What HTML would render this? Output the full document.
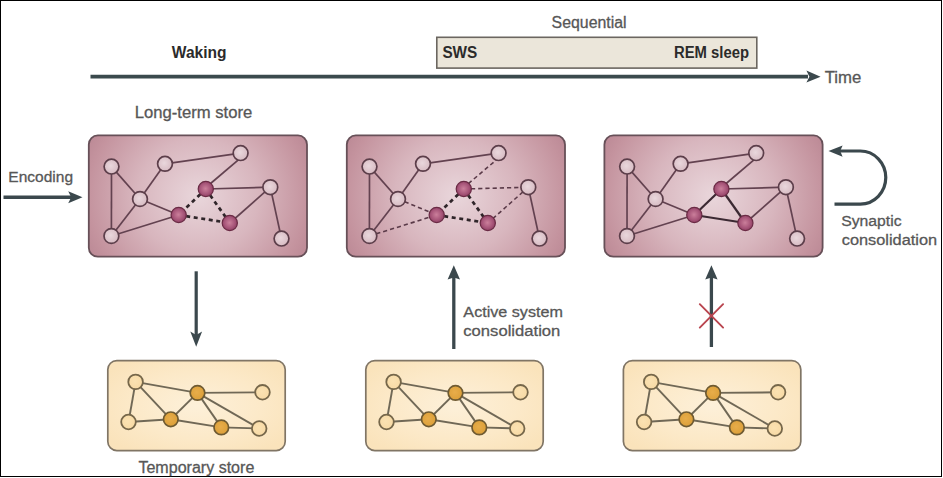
<!DOCTYPE html><html><head><meta charset="utf-8"><style>
html,body{margin:0;padding:0;background:#fff;}
body{width:943px;height:478px;overflow:hidden;position:relative;}
svg{position:absolute;left:0;top:0;}
text{font-family:"Liberation Sans", sans-serif;}
</style></head><body>
<svg width="943" height="478" viewBox="0 0 943 478">
<defs>
<radialGradient id="ltg" cx="0.5" cy="0.5" r="1" gradientTransform="translate(0.5,0.52) scale(0.56,0.95) translate(-0.5,-0.52)"><stop offset="0" stop-color="#e9d6db"/><stop offset="0.5" stop-color="#d8b6be"/><stop offset="0.9" stop-color="#c4939e"/><stop offset="1" stop-color="#bd8b97"/></radialGradient>
<radialGradient id="tg" cx="50%" cy="50%" r="62%"><stop offset="0" stop-color="#fdf0d9"/><stop offset="0.6" stop-color="#fce9c8"/><stop offset="1" stop-color="#fae3bb"/></radialGradient>
<radialGradient id="ln" cx="45%" cy="45%" r="60%"><stop offset="0" stop-color="#e9d7dc"/><stop offset="1" stop-color="#d6b9c1"/></radialGradient>
<radialGradient id="dn" cx="48%" cy="48%" r="60%"><stop offset="0" stop-color="#cb7f9b"/><stop offset="0.6" stop-color="#a65478"/><stop offset="1" stop-color="#86385b"/></radialGradient>
<radialGradient id="tln" cx="45%" cy="45%" r="60%"><stop offset="0" stop-color="#fbe2b2"/><stop offset="1" stop-color="#f7d9a4"/></radialGradient>
<radialGradient id="tdn" cx="45%" cy="45%" r="60%"><stop offset="0" stop-color="#e8ad4a"/><stop offset="1" stop-color="#da9e38"/></radialGradient>
</defs>
<g fill="#000" shape-rendering="crispEdges"><rect x="0" y="0" width="942" height="1"/><rect x="0" y="0" width="1" height="477"/><rect x="941" y="0" width="1" height="477"/><rect x="0" y="476" width="942" height="1"/></g>
<line x1="90.5" y1="76.6" x2="808" y2="76.6" stroke="#3b4a4d" stroke-width="3.6"/>
<path d="M820.6,76.7 L806.4,70.6 L809.4,76.7 L806.4,82.6 Z" fill="#3b484d"/>
<rect x="436.8" y="37.3" width="320" height="30.8" fill="#ebe6da" stroke="#6b6660" stroke-width="1.6"/>
<text x="171.80" y="57.5" font-size="16.2" font-weight="bold" fill="#2b2b2b" textLength="54.73" lengthAdjust="spacingAndGlyphs">Waking</text>
<text x="442.41" y="57.8" font-size="15.6" font-weight="bold" fill="#2b2b2b" textLength="34.90" lengthAdjust="spacingAndGlyphs">SWS</text>
<text x="674.02" y="57.8" font-size="15.6" font-weight="bold" fill="#2b2b2b" textLength="75.03" lengthAdjust="spacingAndGlyphs">REM sleep</text>
<text x="551.60" y="27.5" font-size="15.8" font-weight="normal" fill="#575757" stroke="#575757" stroke-width="0.3" textLength="74.98" lengthAdjust="spacingAndGlyphs">Sequential</text>
<text x="824.76" y="83.1" font-size="15.8" font-weight="normal" fill="#575757" stroke="#575757" stroke-width="0.3" textLength="36.62" lengthAdjust="spacingAndGlyphs">Time</text>
<text x="134.69" y="118.1" font-size="15.6" font-weight="normal" fill="#575757" stroke="#575757" stroke-width="0.3" textLength="117.52" lengthAdjust="spacingAndGlyphs">Long-term store</text>
<text x="8.39" y="182.4" font-size="15.4" font-weight="normal" fill="#575757" stroke="#575757" stroke-width="0.3" textLength="64.70" lengthAdjust="spacingAndGlyphs">Encoding</text>
<text x="138.40" y="473.0" font-size="15.8" font-weight="normal" fill="#575757" stroke="#575757" stroke-width="0.3" textLength="115.94" lengthAdjust="spacingAndGlyphs">Temporary store</text>
<text x="463.38" y="316.9" font-size="15.2" font-weight="normal" fill="#575757" stroke="#575757" stroke-width="0.3" textLength="99.53" lengthAdjust="spacingAndGlyphs">Active system</text>
<text x="463.32" y="336.0" font-size="15.2" font-weight="normal" fill="#575757" stroke="#575757" stroke-width="0.3" textLength="97.01" lengthAdjust="spacingAndGlyphs">consolidation</text>
<text x="841.18" y="225.8" font-size="15.4" font-weight="normal" fill="#575757" stroke="#575757" stroke-width="0.3" textLength="60.35" lengthAdjust="spacingAndGlyphs">Synaptic</text>
<text x="841.76" y="244.5" font-size="15.4" font-weight="normal" fill="#575757" stroke="#575757" stroke-width="0.3" textLength="95.40" lengthAdjust="spacingAndGlyphs">consolidation</text>
<line x1="3.5" y1="197.2" x2="72" y2="197.2" stroke="#3b484d" stroke-width="3.6"/>
<path d="M82.5,197.2 L68.2,191.2 L71.2,197.2 L68.2,203.2 Z" fill="#3b484d"/>
<line x1="196.2" y1="271.3" x2="196.2" y2="336" stroke="#3b484d" stroke-width="3.2"/>
<path d="M196.2,346.8 L190.3,331.5 L196.2,335 L202.1,331.5 Z" fill="#3b484d"/>
<line x1="453.8" y1="349" x2="453.8" y2="276" stroke="#3b484d" stroke-width="3.3"/>
<path d="M453.8,265.3 L447.6,279.6 L453.8,277.6 L460,279.6 Z" fill="#3b484d"/>
<line x1="711.4" y1="347" x2="711.4" y2="276" stroke="#3b484d" stroke-width="3.3"/>
<path d="M711.4,265.3 L705.2,279.6 L711.4,277.6 L717.6,279.6 Z" fill="#3b484d"/>
<path d="M699.8,304.2 L723.1,327.6 M723.1,304.2 L699.8,327.6" stroke="#b9454f" stroke-width="1.9" stroke-linecap="round" fill="none"/>
<path d="M840,151 L860.3,151 A25.5,26.6 0 0 1 860.3,204.2 L834.5,204.2" fill="none" stroke="#3b484d" stroke-width="3.2"/>
<path d="M828.5,151 L842.6,145.4 L840.2,151 L842.6,156.8 Z" fill="#3b484d"/>
<rect x="88.8" y="135.4" width="218.2" height="121.29999999999998" rx="9" ry="9" fill="url(#ltg)" stroke="#675058" stroke-width="1.8"/>
<line x1="111.5" y1="166.6" x2="140.0" y2="199.0" stroke="#634250" stroke-width="1.7"/>
<line x1="111.5" y1="166.6" x2="111.4" y2="236.0" stroke="#634250" stroke-width="1.7"/>
<line x1="165.0" y1="163.8" x2="140.0" y2="199.0" stroke="#634250" stroke-width="1.7"/>
<line x1="165.0" y1="163.8" x2="240.6" y2="153.1" stroke="#634250" stroke-width="1.7"/>
<line x1="140.0" y1="199.0" x2="111.4" y2="236.0" stroke="#634250" stroke-width="1.7"/>
<line x1="270.3" y1="187.2" x2="281.5" y2="238.6" stroke="#634250" stroke-width="1.7"/>
<line x1="241.0" y1="157.6" x2="208.8" y2="185.0" stroke="#634250" stroke-width="1.7"/>
<line x1="205.8" y1="189.0" x2="270.3" y2="187.2" stroke="#634250" stroke-width="1.7"/>
<line x1="140.0" y1="199.0" x2="178.7" y2="215.0" stroke="#634250" stroke-width="1.7"/>
<line x1="111.4" y1="236.0" x2="178.7" y2="215.0" stroke="#634250" stroke-width="1.7"/>
<line x1="270.3" y1="187.2" x2="229.8" y2="223.0" stroke="#634250" stroke-width="1.7"/>
<line x1="205.8" y1="189.0" x2="178.7" y2="215.0" stroke="#2f2529" stroke-width="2.7" stroke-dasharray="4 3.6"/>
<line x1="178.7" y1="215.0" x2="229.8" y2="223.0" stroke="#2f2529" stroke-width="2.7" stroke-dasharray="4 3.6"/>
<line x1="205.8" y1="189.0" x2="229.8" y2="223.0" stroke="#2f2529" stroke-width="2.7" stroke-dasharray="4 3.6"/>
<circle cx="111.5" cy="166.6" r="7.4" fill="url(#ln)" stroke="#5c3e4a" stroke-width="1.7"/>
<circle cx="165.0" cy="163.8" r="7.4" fill="url(#ln)" stroke="#5c3e4a" stroke-width="1.7"/>
<circle cx="240.6" cy="153.1" r="7.4" fill="url(#ln)" stroke="#5c3e4a" stroke-width="1.7"/>
<circle cx="140.0" cy="199.0" r="7.4" fill="url(#ln)" stroke="#5c3e4a" stroke-width="1.7"/>
<circle cx="205.8" cy="189.0" r="7.6" fill="url(#dn)" stroke="#6a2a44" stroke-width="1.2"/>
<circle cx="270.3" cy="187.2" r="7.4" fill="url(#ln)" stroke="#5c3e4a" stroke-width="1.7"/>
<circle cx="178.7" cy="215.0" r="7.6" fill="url(#dn)" stroke="#6a2a44" stroke-width="1.2"/>
<circle cx="229.8" cy="223.0" r="7.6" fill="url(#dn)" stroke="#6a2a44" stroke-width="1.2"/>
<circle cx="111.4" cy="236.0" r="7.4" fill="url(#ln)" stroke="#5c3e4a" stroke-width="1.7"/>
<circle cx="281.5" cy="238.6" r="7.4" fill="url(#ln)" stroke="#5c3e4a" stroke-width="1.7"/>
<rect x="346.8" y="135.4" width="218.2" height="121.29999999999998" rx="9" ry="9" fill="url(#ltg)" stroke="#675058" stroke-width="1.8"/>
<line x1="369.5" y1="166.6" x2="398.0" y2="199.0" stroke="#634250" stroke-width="1.7"/>
<line x1="369.5" y1="166.6" x2="369.4" y2="236.0" stroke="#634250" stroke-width="1.7"/>
<line x1="423.0" y1="163.8" x2="398.0" y2="199.0" stroke="#634250" stroke-width="1.7"/>
<line x1="423.0" y1="163.8" x2="498.6" y2="153.1" stroke="#634250" stroke-width="1.7"/>
<line x1="398.0" y1="199.0" x2="369.4" y2="236.0" stroke="#634250" stroke-width="1.7"/>
<line x1="528.3" y1="187.2" x2="539.5" y2="238.6" stroke="#634250" stroke-width="1.7"/>
<line x1="499.0" y1="157.6" x2="466.8" y2="185.0" stroke="#5a3a48" stroke-width="1.6" stroke-dasharray="4.2 3"/>
<line x1="463.8" y1="189.0" x2="528.3" y2="187.2" stroke="#5a3a48" stroke-width="1.6" stroke-dasharray="4.2 3"/>
<line x1="398.0" y1="199.0" x2="436.7" y2="215.0" stroke="#5a3a48" stroke-width="1.6" stroke-dasharray="4.2 3"/>
<line x1="369.4" y1="236.0" x2="436.7" y2="215.0" stroke="#5a3a48" stroke-width="1.6" stroke-dasharray="4.2 3"/>
<line x1="528.3" y1="187.2" x2="487.8" y2="223.0" stroke="#5a3a48" stroke-width="1.6" stroke-dasharray="4.2 3"/>
<line x1="463.8" y1="189.0" x2="436.7" y2="215.0" stroke="#2f2529" stroke-width="2.7" stroke-dasharray="4 3.6"/>
<line x1="436.7" y1="215.0" x2="487.8" y2="223.0" stroke="#2f2529" stroke-width="2.7" stroke-dasharray="4 3.6"/>
<line x1="463.8" y1="189.0" x2="487.8" y2="223.0" stroke="#2f2529" stroke-width="2.7" stroke-dasharray="4 3.6"/>
<circle cx="369.5" cy="166.6" r="7.4" fill="url(#ln)" stroke="#5c3e4a" stroke-width="1.7"/>
<circle cx="423.0" cy="163.8" r="7.4" fill="url(#ln)" stroke="#5c3e4a" stroke-width="1.7"/>
<circle cx="498.6" cy="153.1" r="7.4" fill="url(#ln)" stroke="#5c3e4a" stroke-width="1.7"/>
<circle cx="398.0" cy="199.0" r="7.4" fill="url(#ln)" stroke="#5c3e4a" stroke-width="1.7"/>
<circle cx="463.8" cy="189.0" r="7.6" fill="url(#dn)" stroke="#6a2a44" stroke-width="1.2"/>
<circle cx="528.3" cy="187.2" r="7.4" fill="url(#ln)" stroke="#5c3e4a" stroke-width="1.7"/>
<circle cx="436.7" cy="215.0" r="7.6" fill="url(#dn)" stroke="#6a2a44" stroke-width="1.2"/>
<circle cx="487.8" cy="223.0" r="7.6" fill="url(#dn)" stroke="#6a2a44" stroke-width="1.2"/>
<circle cx="369.4" cy="236.0" r="7.4" fill="url(#ln)" stroke="#5c3e4a" stroke-width="1.7"/>
<circle cx="539.5" cy="238.6" r="7.4" fill="url(#ln)" stroke="#5c3e4a" stroke-width="1.7"/>
<rect x="604.4" y="135.4" width="218.2" height="121.29999999999998" rx="9" ry="9" fill="url(#ltg)" stroke="#675058" stroke-width="1.8"/>
<line x1="627.1" y1="166.6" x2="655.6" y2="199.0" stroke="#634250" stroke-width="1.7"/>
<line x1="627.1" y1="166.6" x2="627.0" y2="236.0" stroke="#634250" stroke-width="1.7"/>
<line x1="680.6" y1="163.8" x2="655.6" y2="199.0" stroke="#634250" stroke-width="1.7"/>
<line x1="680.6" y1="163.8" x2="756.2" y2="153.1" stroke="#634250" stroke-width="1.7"/>
<line x1="655.6" y1="199.0" x2="627.0" y2="236.0" stroke="#634250" stroke-width="1.7"/>
<line x1="785.9000000000001" y1="187.2" x2="797.1" y2="238.6" stroke="#634250" stroke-width="1.7"/>
<line x1="756.6" y1="157.6" x2="724.4000000000001" y2="185.0" stroke="#634250" stroke-width="1.7"/>
<line x1="721.4000000000001" y1="189.0" x2="785.9000000000001" y2="187.2" stroke="#634250" stroke-width="1.7"/>
<line x1="655.6" y1="199.0" x2="694.3" y2="215.0" stroke="#634250" stroke-width="1.7"/>
<line x1="627.0" y1="236.0" x2="694.3" y2="215.0" stroke="#634250" stroke-width="1.7"/>
<line x1="785.9000000000001" y1="187.2" x2="745.4000000000001" y2="223.0" stroke="#634250" stroke-width="1.7"/>
<line x1="721.4000000000001" y1="189.0" x2="694.3" y2="215.0" stroke="#3b2932" stroke-width="2.2"/>
<line x1="694.3" y1="215.0" x2="745.4000000000001" y2="223.0" stroke="#3b2932" stroke-width="2.2"/>
<line x1="721.4000000000001" y1="189.0" x2="745.4000000000001" y2="223.0" stroke="#3b2932" stroke-width="2.2"/>
<circle cx="627.1" cy="166.6" r="7.4" fill="url(#ln)" stroke="#5c3e4a" stroke-width="1.7"/>
<circle cx="680.6" cy="163.8" r="7.4" fill="url(#ln)" stroke="#5c3e4a" stroke-width="1.7"/>
<circle cx="756.2" cy="153.1" r="7.4" fill="url(#ln)" stroke="#5c3e4a" stroke-width="1.7"/>
<circle cx="655.6" cy="199.0" r="7.4" fill="url(#ln)" stroke="#5c3e4a" stroke-width="1.7"/>
<circle cx="721.4000000000001" cy="189.0" r="7.6" fill="url(#dn)" stroke="#6a2a44" stroke-width="1.2"/>
<circle cx="785.9000000000001" cy="187.2" r="7.4" fill="url(#ln)" stroke="#5c3e4a" stroke-width="1.7"/>
<circle cx="694.3" cy="215.0" r="7.6" fill="url(#dn)" stroke="#6a2a44" stroke-width="1.2"/>
<circle cx="745.4000000000001" cy="223.0" r="7.6" fill="url(#dn)" stroke="#6a2a44" stroke-width="1.2"/>
<circle cx="627.0" cy="236.0" r="7.4" fill="url(#ln)" stroke="#5c3e4a" stroke-width="1.7"/>
<circle cx="797.1" cy="238.6" r="7.4" fill="url(#ln)" stroke="#5c3e4a" stroke-width="1.7"/>
<rect x="107.8" y="360.6" width="177.39999999999998" height="90.0" rx="9" ry="9" fill="url(#tg)" stroke="#807565" stroke-width="1.7"/>
<line x1="135.6" y1="381.9" x2="197.5" y2="392.9" stroke="#706856" stroke-width="1.9"/>
<line x1="135.6" y1="381.9" x2="128.5" y2="422.0" stroke="#706856" stroke-width="1.9"/>
<line x1="135.6" y1="381.9" x2="170.8" y2="419.3" stroke="#706856" stroke-width="1.9"/>
<line x1="197.5" y1="392.9" x2="262.5" y2="392.3" stroke="#706856" stroke-width="1.9"/>
<line x1="197.5" y1="392.9" x2="170.8" y2="419.3" stroke="#706856" stroke-width="1.9"/>
<line x1="197.5" y1="392.9" x2="221.3" y2="427.4" stroke="#706856" stroke-width="1.9"/>
<line x1="197.5" y1="392.9" x2="259.2" y2="428.5" stroke="#706856" stroke-width="1.9"/>
<line x1="128.5" y1="422.0" x2="170.8" y2="419.3" stroke="#706856" stroke-width="1.9"/>
<line x1="170.8" y1="419.3" x2="221.3" y2="427.4" stroke="#706856" stroke-width="1.9"/>
<line x1="221.3" y1="427.4" x2="259.2" y2="428.5" stroke="#706856" stroke-width="1.9"/>
<circle cx="135.6" cy="381.9" r="7.3" fill="url(#tln)" stroke="#76674a" stroke-width="1.8"/>
<circle cx="197.5" cy="392.9" r="7.3" fill="url(#tdn)" stroke="#6e5a32" stroke-width="1.7"/>
<circle cx="262.5" cy="392.3" r="7.3" fill="url(#tln)" stroke="#76674a" stroke-width="1.8"/>
<circle cx="128.5" cy="422.0" r="7.3" fill="url(#tln)" stroke="#76674a" stroke-width="1.8"/>
<circle cx="170.8" cy="419.3" r="7.3" fill="url(#tdn)" stroke="#6e5a32" stroke-width="1.7"/>
<circle cx="221.3" cy="427.4" r="7.3" fill="url(#tdn)" stroke="#6e5a32" stroke-width="1.7"/>
<circle cx="259.2" cy="428.5" r="7.3" fill="url(#tln)" stroke="#76674a" stroke-width="1.8"/>
<rect x="365.8" y="360.6" width="177.39999999999998" height="90.0" rx="9" ry="9" fill="url(#tg)" stroke="#807565" stroke-width="1.7"/>
<line x1="393.6" y1="381.9" x2="455.5" y2="392.9" stroke="#706856" stroke-width="1.9"/>
<line x1="393.6" y1="381.9" x2="386.5" y2="422.0" stroke="#706856" stroke-width="1.9"/>
<line x1="393.6" y1="381.9" x2="428.8" y2="419.3" stroke="#706856" stroke-width="1.9"/>
<line x1="455.5" y1="392.9" x2="520.5" y2="392.3" stroke="#706856" stroke-width="1.9"/>
<line x1="455.5" y1="392.9" x2="428.8" y2="419.3" stroke="#706856" stroke-width="1.9"/>
<line x1="455.5" y1="392.9" x2="479.3" y2="427.4" stroke="#706856" stroke-width="1.9"/>
<line x1="455.5" y1="392.9" x2="517.2" y2="428.5" stroke="#706856" stroke-width="1.9"/>
<line x1="386.5" y1="422.0" x2="428.8" y2="419.3" stroke="#706856" stroke-width="1.9"/>
<line x1="428.8" y1="419.3" x2="479.3" y2="427.4" stroke="#706856" stroke-width="1.9"/>
<line x1="479.3" y1="427.4" x2="517.2" y2="428.5" stroke="#706856" stroke-width="1.9"/>
<circle cx="393.6" cy="381.9" r="7.3" fill="url(#tln)" stroke="#76674a" stroke-width="1.8"/>
<circle cx="455.5" cy="392.9" r="7.3" fill="url(#tdn)" stroke="#6e5a32" stroke-width="1.7"/>
<circle cx="520.5" cy="392.3" r="7.3" fill="url(#tln)" stroke="#76674a" stroke-width="1.8"/>
<circle cx="386.5" cy="422.0" r="7.3" fill="url(#tln)" stroke="#76674a" stroke-width="1.8"/>
<circle cx="428.8" cy="419.3" r="7.3" fill="url(#tdn)" stroke="#6e5a32" stroke-width="1.7"/>
<circle cx="479.3" cy="427.4" r="7.3" fill="url(#tdn)" stroke="#6e5a32" stroke-width="1.7"/>
<circle cx="517.2" cy="428.5" r="7.3" fill="url(#tln)" stroke="#76674a" stroke-width="1.8"/>
<rect x="623.4" y="360.6" width="177.39999999999998" height="90.0" rx="9" ry="9" fill="url(#tg)" stroke="#807565" stroke-width="1.7"/>
<line x1="651.2" y1="381.9" x2="713.1" y2="392.9" stroke="#706856" stroke-width="1.9"/>
<line x1="651.2" y1="381.9" x2="644.1" y2="422.0" stroke="#706856" stroke-width="1.9"/>
<line x1="651.2" y1="381.9" x2="686.4000000000001" y2="419.3" stroke="#706856" stroke-width="1.9"/>
<line x1="713.1" y1="392.9" x2="778.1" y2="392.3" stroke="#706856" stroke-width="1.9"/>
<line x1="713.1" y1="392.9" x2="686.4000000000001" y2="419.3" stroke="#706856" stroke-width="1.9"/>
<line x1="713.1" y1="392.9" x2="736.9000000000001" y2="427.4" stroke="#706856" stroke-width="1.9"/>
<line x1="713.1" y1="392.9" x2="774.8" y2="428.5" stroke="#706856" stroke-width="1.9"/>
<line x1="644.1" y1="422.0" x2="686.4000000000001" y2="419.3" stroke="#706856" stroke-width="1.9"/>
<line x1="686.4000000000001" y1="419.3" x2="736.9000000000001" y2="427.4" stroke="#706856" stroke-width="1.9"/>
<line x1="736.9000000000001" y1="427.4" x2="774.8" y2="428.5" stroke="#706856" stroke-width="1.9"/>
<circle cx="651.2" cy="381.9" r="7.3" fill="url(#tln)" stroke="#76674a" stroke-width="1.8"/>
<circle cx="713.1" cy="392.9" r="7.3" fill="url(#tdn)" stroke="#6e5a32" stroke-width="1.7"/>
<circle cx="778.1" cy="392.3" r="7.3" fill="url(#tln)" stroke="#76674a" stroke-width="1.8"/>
<circle cx="644.1" cy="422.0" r="7.3" fill="url(#tln)" stroke="#76674a" stroke-width="1.8"/>
<circle cx="686.4000000000001" cy="419.3" r="7.3" fill="url(#tdn)" stroke="#6e5a32" stroke-width="1.7"/>
<circle cx="736.9000000000001" cy="427.4" r="7.3" fill="url(#tdn)" stroke="#6e5a32" stroke-width="1.7"/>
<circle cx="774.8" cy="428.5" r="7.3" fill="url(#tln)" stroke="#76674a" stroke-width="1.8"/>
</svg></body></html>
